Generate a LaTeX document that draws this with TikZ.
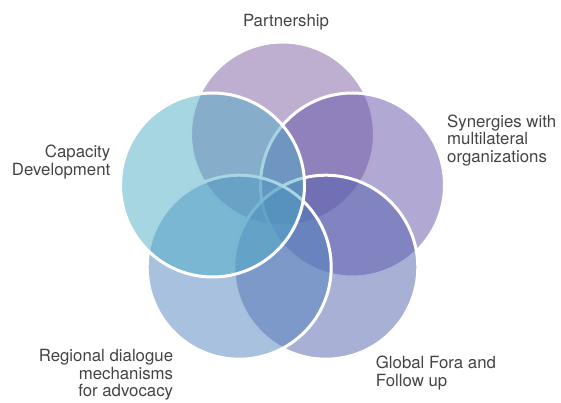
\documentclass[tikz,border=0pt]{standalone}
\usepackage{fontspec}
\setmainfont{TeX Gyre Heros}
\definecolor{cPart}{RGB}{125,95,161}
\definecolor{cSyn}{RGB}{99,83,169}
\definecolor{cGlob}{RGB}{83,97,173}
\definecolor{cReg}{RGB}{81,131,189}
\definecolor{cCap}{RGB}{79,173,199}
\definecolor{txt}{RGB}{68,68,68}
\tikzset{
  petal/.style={circle, minimum size=184pt, inner sep=0pt, outer sep=0pt,
    draw=white, line width=3pt, fill opacity=0.5, draw opacity=1},
  lbl/.style={inner sep=0pt, text=txt, font=\fontsize{16.8}{17.6}\selectfont}
}
\begin{document}
\begin{tikzpicture}[x=1pt,y=-1pt]
\useasboundingbox (0,0) rectangle (561,403);
\node[petal, fill=cPart] (part) at (282.5,134) {};
\node[petal, fill=cSyn]  (syn)  at (352.5,185) {};
\node[petal, fill=cGlob] (glob) at (325.8,267.2) {};
\node[petal, fill=cReg]  (reg)  at (239.2,267.2) {};
\node[petal, fill=cCap]  (cap)  at (212.5,185) {};
\node[lbl, anchor=base] (tpart) at (286,26.5) {Partnership};
\node[lbl, anchor=north east, align=right] (tcap) at (110.5,145.1) {Capacity\\Development};
\node[lbl, anchor=north west, align=left] (tsyn) at (447,114.3) {Synergies with\\multilateral\\organizations};
\node[lbl, anchor=north east, align=right] (treg) at (173.3,349.3) {Regional dialogue\\mechanisms\\for advocacy};
\node[lbl, anchor=north west, align=left] (tglob) at (375.7,355.9) {Global Fora and\\Follow up};
\end{tikzpicture}
\end{document}
